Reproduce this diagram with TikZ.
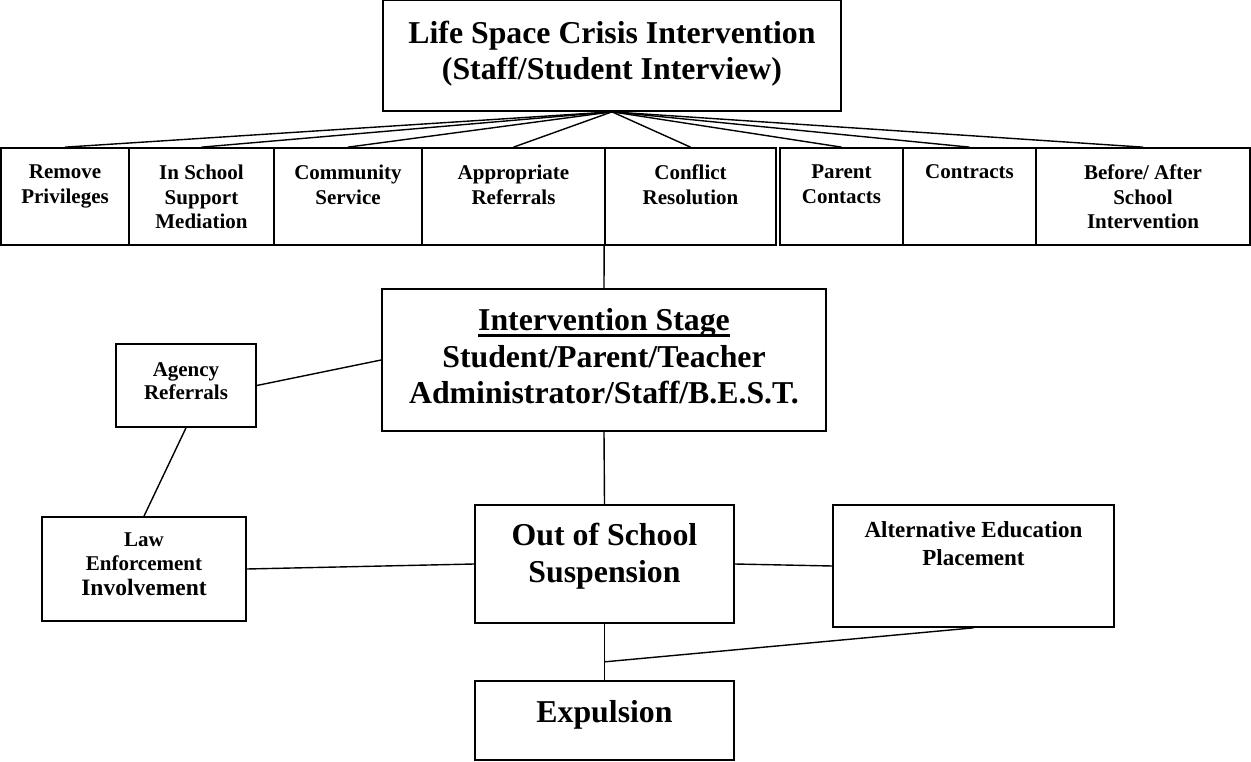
\documentclass[tikz,border=0pt]{standalone}
\usepackage{fontspec}
\setmainfont{Liberation Serif}
\usepackage{tikz}
\newcommand{\boxtext}[4]{\parbox[c][#2][t]{#1}{\centering\vspace*{#3}#4\par}}
\newcommand{\stageline}[1]{\leavevmode\setbox0\hbox{#1}\rlap{\rule[-6.5pt]{\wd0}{2.6pt}}\box0}
\tikzset{
  box/.style={draw, line width=1.7pt, inner sep=0pt},
  link/.style={line width=1.4pt},
  cell/.style={box, font=\fontsize{21}{24.5}\selectfont\bfseries},
  bigcell/.style={box, font=\fontsize{31.8}{36.5}\selectfont\bfseries},
}

\begin{document}
\begin{tikzpicture}[x=1pt,y=-1pt]
\useasboundingbox (0,0) rectangle (1251,762);
\node[bigcell] (crisis) at (612,55.5) {\boxtext{458pt}{111pt}{21pt}{Life Space Crisis Intervention\\(Staff/Student Interview)}};
\node[cell] (privileges) at (65,196.5) {\boxtext{128pt}{97pt}{17pt}{Remove\\Privileges}};
\node[cell] (mediation) at (201.5,196.5) {\boxtext{145pt}{97pt}{17pt}{In School\\Support\\Mediation}};
\node[cell] (service) at (348,196.5) {\boxtext{148pt}{97pt}{17pt}{Community\\Service}};
\node[cell] (referrals) at (513.5,196.5) {\boxtext{183pt}{97pt}{17pt}{Appropriate\\Referrals}};
\node[cell] (conflict) at (690.5,196.5) {\boxtext{171pt}{97pt}{17pt}{Conflict\\Resolution}};
\node[cell] (parents) at (841.5,196.5) {\boxtext{123pt}{97pt}{17pt}{Parent\\Contacts}};
\node[cell] (contracts) at (969.5,196.5) {\boxtext{133pt}{97pt}{17pt}{Contracts}};
\node[cell] (afterschool) at (1143,196.5) {\boxtext{214pt}{97pt}{17pt}{Before/ After\\School\\Intervention}};
\node[bigcell] (stage) at (604,360) {\boxtext{444pt}{142pt}{19.5pt}{\stageline{Intervention Stage}\\Student/Parent/Teacher\\Administrator/Staff/B.E.S.T.}};
\node[cell, font=\fontsize{21}{23.5}\selectfont\bfseries] (agency) at (186,385.5) {\boxtext{140pt}{83pt}{18.5pt}{Agency\\Referrals}};
\node[cell] (law) at (144,569) {\boxtext{204pt}{104pt}{15.5pt}{Law\\Enforcement\\{\fontsize{23.5}{24.5}\selectfont Involvement}}};
\node[bigcell] (suspension) at (604.5,564) {\boxtext{259pt}{118pt}{18.5pt}{Out of School\\Suspension}};
\node[cell, font=\fontsize{23}{28}\selectfont\bfseries] (placement) at (973.5,566) {\boxtext{281pt}{122pt}{16.5pt}{Alternative Education\\Placement}};
\node[bigcell] (expulsion) at (604.5,720.5) {\boxtext{259pt}{79pt}{19.5pt}{Expulsion}};
\coordinate (merge) at ([yshift=-38pt]suspension.south);

\foreach \n in {privileges,mediation,service,referrals,conflict,parents,contracts,afterschool}
  \draw[link] (crisis.south) -- (\n.north);
\draw[link] (conflict.south west) -- (stage.north);
\draw[link] (stage.south) -- (suspension.north);
\draw[link] (agency.east) -- (stage.west);
\draw[link] (agency.south) -- (law.north);
\draw[link] (law.east) -- (suspension.west);
\draw[link] (suspension.east) -- (placement.west);
\draw[link] (suspension.south) -- (expulsion.north);
\draw[link] (placement.south) -- (merge);
\end{tikzpicture}
\end{document}
